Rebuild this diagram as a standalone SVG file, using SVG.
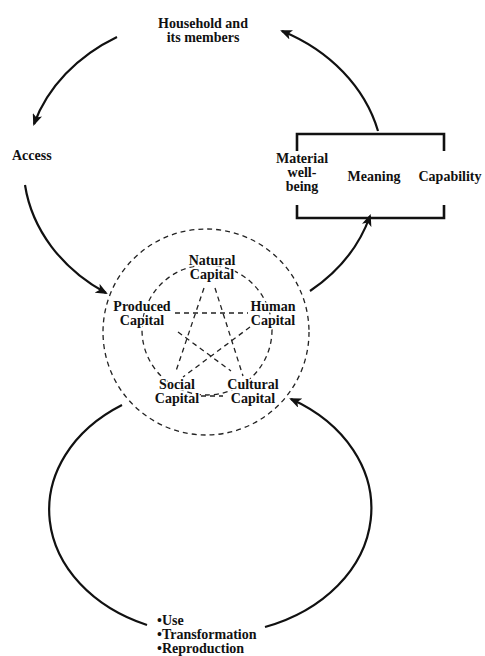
<svg xmlns="http://www.w3.org/2000/svg" width="485" height="656" viewBox="0 0 485 656">
<style>
text{font-family:"Liberation Serif","Times New Roman",serif;font-weight:bold;font-size:14px;fill:#111}
.c{text-anchor:middle}
.halo{paint-order:stroke;stroke:#fff;stroke-width:3px;stroke-linejoin:round}
.arc{fill:none;stroke:#111;stroke-width:2.2;marker-end:url(#ah)}
.plain{fill:none;stroke:#111;stroke-width:2.2}
.dash{fill:none;stroke:#222;stroke-width:1.3;stroke-dasharray:5 4}
.box{fill:none;stroke:#111;stroke-width:2.6}
</style>
<defs>
<marker id="ah" viewBox="0 0 12 10" refX="10" refY="5" markerWidth="12" markerHeight="10" markerUnits="userSpaceOnUse" orient="auto">
<path d="M0,0 L12,5 L0,10 L3,5 Z" fill="#111"/>
</marker>
</defs>
<g id="connectors">
<path class="arc" d="M117,37 A180 152 0 0 0 34,124"/>
<path class="arc" d="M25,185 A180 152 0 0 0 106,293"/>
<path class="arc" d="M310,291 A180 152 0 0 0 370,216"/>
<path class="arc" d="M378,131 A180 152 0 0 0 282,31"/>
<path class="plain" d="M122,405 A160 125 0 0 0 147,625"/>
<path class="arc" d="M265,627 A160 126 0 0 0 291,399"/>
</g>
<g id="capital-assets">
<circle class="dash" cx="206" cy="332" r="103"/>
<circle class="dash" cx="207" cy="330" r="65"/>
<g id="pentagram">
<line class="dash" x1="204" y1="288" x2="176" y2="371"/>
<line class="dash" x1="215" y1="288" x2="243" y2="376"/>
<line class="dash" x1="175" y1="313" x2="248" y2="313"/>
<line class="dash" x1="178" y1="332" x2="231" y2="371"/>
<line class="dash" x1="250" y1="327" x2="183" y2="377"/>
<line class="dash" x1="201" y1="396" x2="223" y2="396"/>
</g>
<g id="natural"><text class="c halo" x="212" y="265">Natural</text><text class="c halo" x="212" y="279">Capital</text></g>
<g id="produced"><text class="c halo" x="142" y="311">Produced</text><text class="c halo" x="142" y="325">Capital</text></g>
<g id="human"><text class="c halo" x="273" y="311">Human</text><text class="c halo" x="273" y="325">Capital</text></g>
<g id="social"><text class="c halo" x="177" y="389">Social</text><text class="c halo" x="177" y="403">Capital</text></g>
<g id="cultural"><text class="c halo" x="253" y="389">Cultural</text><text class="c halo" x="253" y="403">Capital</text></g>
</g>
<g id="household"><text class="c" x="203" y="28">Household and</text><text class="c" x="203" y="42">its members</text></g>
<g id="access"><text x="12" y="160">Access</text></g>
<g id="outcomes">
<path class="box" d="M297,151 V134 H444 V151"/>
<path class="box" d="M297,205 V218 H444 V205"/>
<text class="c" x="302" y="163">Material</text>
<text class="c" x="302" y="177">well-</text>
<text class="c" x="302" y="191">being</text>
<text class="c" x="374" y="181">Meaning</text>
<text class="c" x="450" y="181">Capability</text>
</g>
<g id="processes">
<text x="157" y="625">•Use</text>
<text x="157" y="639">•Transformation</text>
<text x="157" y="653">•Reproduction</text>
</g>
</svg>
